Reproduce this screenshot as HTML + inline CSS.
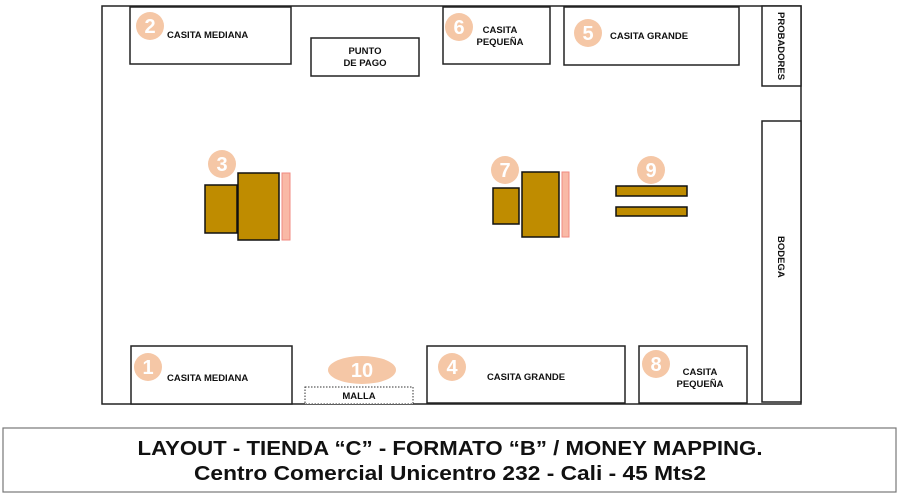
<!DOCTYPE html>
<html><head><meta charset="utf-8"><style>
html,body{margin:0;padding:0;background:#fff;}
svg{display:block;}
text{font-family:"Liberation Sans",Arial,sans-serif;}
.l{font-size:9.5px;font-weight:bold;fill:#111;}
.n{font-size:20px;font-weight:bold;fill:#fff;text-anchor:middle;}
.c{fill:#f5c7a6;}
.g{fill:#bf8c00;stroke:#111;stroke-width:1.5;}
.b{fill:#fff;stroke:#222;stroke-width:1.5;}
</style></head><body>
<svg width="900" height="495" viewBox="0 0 900 495" xmlns="http://www.w3.org/2000/svg">
<rect x="102" y="6" width="699" height="398" fill="#fff" stroke="#222" stroke-width="1.5"/>
<!-- top boxes -->
<rect class="b" x="130" y="7" width="161" height="57"/>
<circle class="c" cx="150" cy="26" r="14"/><text class="n" x="150" y="33">2</text>
<text class="l" x="167" y="38">CASITA MEDIANA</text>
<rect class="b" x="311" y="38" width="108" height="38"/>
<text class="l" x="365" y="54" text-anchor="middle">PUNTO</text>
<text class="l" x="365" y="66" text-anchor="middle">DE PAGO</text>
<rect class="b" x="443" y="7" width="107" height="57"/>
<circle class="c" cx="459" cy="27" r="14"/><text class="n" x="459" y="34">6</text>
<text class="l" x="500" y="33" text-anchor="middle">CASITA</text>
<text class="l" x="500" y="45" text-anchor="middle">PEQUEÑA</text>
<rect class="b" x="564" y="7" width="175" height="58"/>
<circle class="c" cx="588" cy="33" r="14"/><text class="n" x="588" y="40">5</text>
<text class="l" x="610" y="39">CASITA GRANDE</text>
<rect class="b" x="762" y="6" width="39" height="80"/>
<text class="l" transform="translate(778,12) rotate(90)">PROBADORES</text>
<rect class="b" x="762" y="121" width="39" height="281"/>
<text class="l" transform="translate(778,236) rotate(90)">BODEGA</text>
<!-- 3 -->
<circle class="c" cx="222" cy="164" r="14"/><text class="n" x="222" y="171">3</text>
<rect class="g" x="205" y="185" width="32" height="48"/>
<rect class="g" x="238" y="173" width="41" height="67"/>
<rect x="282" y="173" width="8" height="67" fill="#f9b9a6" stroke="#f08a80" stroke-width="1"/>
<!-- 7 -->
<circle class="c" cx="505" cy="170" r="14"/><text class="n" x="505" y="177">7</text>
<rect class="g" x="493" y="188" width="26" height="36"/>
<rect class="g" x="522" y="172" width="37" height="65"/>
<rect x="562" y="172" width="7" height="65" fill="#f9b9a6" stroke="#f08a80" stroke-width="1"/>
<!-- 9 -->
<circle class="c" cx="651" cy="170" r="14"/><text class="n" x="651" y="177">9</text>
<rect class="g" x="616" y="186" width="71" height="10"/>
<rect class="g" x="616" y="207" width="71" height="9"/>
<!-- bottom -->
<rect class="b" x="131" y="346" width="161" height="58"/>
<circle class="c" cx="148" cy="367" r="14"/><text class="n" x="148" y="374">1</text>
<text class="l" x="167" y="381">CASITA MEDIANA</text>
<ellipse class="c" cx="362" cy="370" rx="34" ry="14"/><text class="n" x="362" y="377">10</text>
<rect x="305" y="387" width="108" height="17" fill="#fff" stroke="#333" stroke-width="1" stroke-dasharray="1.5,1.5"/>
<text class="l" x="359" y="399" text-anchor="middle">MALLA</text>
<rect class="b" x="427" y="346" width="198" height="57"/>
<circle class="c" cx="452" cy="367" r="14"/><text class="n" x="452" y="374">4</text>
<text class="l" x="526" y="380" text-anchor="middle">CASITA GRANDE</text>
<rect class="b" x="639" y="346" width="108" height="57"/>
<circle class="c" cx="656" cy="364" r="14"/><text class="n" x="656" y="371">8</text>
<text class="l" x="700" y="375" text-anchor="middle">CASITA</text>
<text class="l" x="700" y="387" text-anchor="middle">PEQUEÑA</text>
<!-- caption -->
<rect x="3" y="428" width="893" height="64" fill="#fff" stroke="#777" stroke-width="1.2"/>
<text x="450" y="455" text-anchor="middle" font-size="20" font-weight="bold" fill="#111" style="font-family:'Liberation Sans Narrow','Liberation Sans',sans-serif" textLength="625" lengthAdjust="spacingAndGlyphs">LAYOUT - TIENDA “C” - FORMATO “B” / MONEY MAPPING.</text>
<text x="450" y="480" text-anchor="middle" font-size="20" font-weight="bold" fill="#111" style="font-family:'Liberation Sans Narrow','Liberation Sans',sans-serif" textLength="512" lengthAdjust="spacingAndGlyphs">Centro Comercial Unicentro 232 - Cali - 45 Mts2</text>
</svg>
</body></html>
